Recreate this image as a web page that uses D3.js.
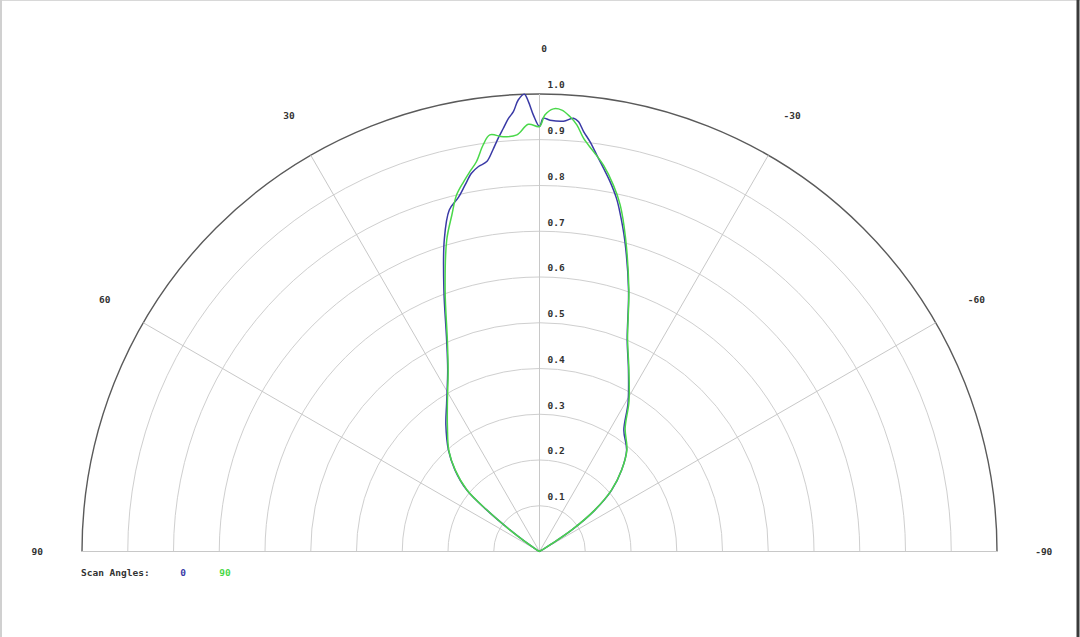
<!DOCTYPE html>
<html>
<head>
<meta charset="utf-8">
<title>Scan Angles polar plot</title>
<script src="https://cdn.jsdelivr.net/npm/d3@7"></script>
<style>
	html, body { margin: 0; padding: 0; background: #fff; }
	svg { display: block; }
	.label { font-family: "DejaVu Sans Mono", "Liberation Mono", monospace; font-weight: bold; font-size: 9.5px; fill: #333; }
	.ring { fill: none; stroke: #cfcfcf; stroke-width: 1; }
	.ring.outer { stroke: #5a5a5a; stroke-width: 1.4; }
	.spoke { stroke: #c8c8c8; stroke-width: 1; }
	.series { fill: none; stroke-width: 1.5; stroke-linejoin: round; }
</style>
</head>
<body>
<svg id="chart" width="1080" height="637"></svg>
<script>
// legend categories and colours
var scanAngles = ['0', '90'];
var seriesColors = ['#3a3aa6', '#4ad84a'];

// grid ticks
var ringTicks = [0.1, 0.2, 0.3, 0.4, 0.5, 0.6, 0.7, 0.8, 0.9, 1.0];
var ringLabels = ['0.1', '0.2', '0.3', '0.4', '0.5', '0.6', '0.7', '0.8', '0.9', '1.0'];
var angleTicks = [90, 60, 30, 0, -30, -60, -90];
var angleLabels = ['90', '60', '30', '0', '-30', '-60', '-90'];

// scan angle 0 : theta (deg) / normalised amplitude
var theta0 = [90, 75, 65, 60, 57, 55.5, 53.9, 51.8, 49.8, 46.0, 41.9, 36.5, 32.0, 26.8, 23.7, 20.1, 17.0, 14.8,
	12.9, 11.5, 10.2, 9.0, 7.7, 6.5, 5.7, 4.9, 4.1, 3.4, 2.7, 1.9, 1.4, 0.8, 0, -0.5, -1.4, -3.2, -4.5, -5.2,
	-6.0, -7.0, -8.2, -9.5, -10.8, -12.3, -13.3, -15.3, -18.8, -22.5, -26.1, -30.8, -34.8, -40.7, -45.2,
	-49.6, -53.2, -56.3, -58, -60, -65, -75, -90];
var value0 = [0, 0, 0, 0, 0.01, 0.04, 0.080, 0.147, 0.208, 0.257, 0.298, 0.344, 0.383, 0.445, 0.505, 0.608, 0.712, 0.772,
	0.794, 0.817, 0.840, 0.852, 0.860, 0.887, 0.908, 0.928, 0.949, 0.963, 0.988, 1.0, 0.983, 0.954, 0.929, 0.947, 0.943, 0.942, 0.950, 0.943,
	0.923, 0.903, 0.876, 0.849, 0.823, 0.790, 0.763, 0.706, 0.604, 0.501, 0.442, 0.378, 0.323, 0.292, 0.253,
	0.207, 0.151, 0.085, 0.03, 0.008, 0, 0, 0];

// scan angle 90
var theta90 = [90, 75, 65, 60, 57, 55.5, 53.8, 51.7, 49.7, 46.0, 42.0, 36.3, 32.0, 26.8, 23.6, 19.9, 16.6, 14.6,
	13.1, 11.6, 10.4, 9.2, 7.9, 6.8, 5.0, 3.1, 1.5, 0, -0.7, -1.8, -2.9, -4.0, -5.0, -6.1, -7.7, -9.4, -11.4,
	-13.1, -15.3, -18.8, -22.5, -26.1, -30.8, -34.8, -40.7, -45.2, -49.6, -53.2, -56.3, -58, -60, -65, -75, -90];
var value90 = [0, 0, 0, 0, 0.01, 0.04, 0.082, 0.148, 0.208, 0.256, 0.296, 0.340, 0.380, 0.443, 0.503, 0.606, 0.710, 0.760,
	0.800, 0.825, 0.844, 0.863, 0.897, 0.917, 0.910, 0.912, 0.934, 0.929, 0.954, 0.968, 0.966, 0.953, 0.936, 0.908, 0.882, 0.856, 0.817,
	0.778, 0.712, 0.606, 0.503, 0.444, 0.382, 0.328, 0.293, 0.253, 0.206, 0.150, 0.084, 0.03, 0.008, 0, 0, 0];

var series = [
	{ name: scanAngles[0], theta: theta0, value: value0, color: seriesColors[0] },
	{ name: scanAngles[1], theta: theta90, value: value90, color: seriesColors[1] }
];

var cx = 539.5, cy = 551.5, radius = 457.5;

var svg = d3.select('#chart');

// frame edges of the original screenshot
svg.append('line').attr('x1', 0).attr('x2', 1080).attr('y1', 0.5).attr('y2', 0.5).attr('stroke', '#d8d8d8');
svg.append('line').attr('x1', 1).attr('x2', 1).attr('y1', 0).attr('y2', 637).attr('stroke', '#d0d0d0').attr('stroke-width', 2);
svg.append('line').attr('x1', 1078).attr('x2', 1078).attr('y1', 0).attr('y2', 637).attr('stroke', '#3a3a3a').attr('stroke-width', 3);

var r = d3.scaleLinear().domain([0, 1]).range([0, radius]);
// positive angles are on the left, 0 points up
var a = d3.scaleLinear().domain([-90, 90]).range([Math.PI / 2, -Math.PI / 2]);

var g = svg.append('g').attr('transform', 'translate(' + cx + ',' + cy + ')');

function halfRing(rad) {
	var p = d3.path();
	p.moveTo(-rad, 0);
	p.arc(0, 0, rad, Math.PI, 2 * Math.PI);
	return p.toString();
}

g.selectAll('path.ring')
	.data(ringTicks)
	.enter().append('path')
	.attr('class', function (d, i) { return i === ringTicks.length - 1 ? 'ring outer' : 'ring'; })
	.attr('d', function (d) { return halfRing(r(d)); });

g.selectAll('line.spoke')
	.data(angleTicks)
	.enter().append('line')
	.attr('class', 'spoke')
	.attr('x1', 0).attr('y1', 0)
	.attr('x2', function (d) { return r(1) * Math.sin(a(d)); })
	.attr('y2', function (d) { return -r(1) * Math.cos(a(d)); });

// ring labels, just right of the 0 spoke and above each ring
g.selectAll('text.ringlabel')
	.data(ringTicks)
	.enter().append('text')
	.attr('class', 'label ringlabel')
	.attr('x', 8)
	.attr('y', function (d) { return -r(d) - 9; })
	.attr('dy', '0.35em')
	.text(function (d, i) { return ringLabels[i]; });

// angle labels outside the outer ring
g.selectAll('text.anglelabel')
	.data(angleTicks)
	.enter().append('text')
	.attr('class', 'label anglelabel')
	.attr('text-anchor', 'middle')
	.attr('x', function (d) { return r(1.1) * Math.sin(a(d)) + (d === 0 ? 4.5 : 1); })
	.attr('y', function (d) { return -r(1.1) * Math.cos(a(d)); })
	.attr('dy', '0.35em')
	.text(function (d, i) { return angleLabels[i]; });

var line = d3.lineRadial()
	.angle(function (d) { return a(d[0]); })
	.radius(function (d) { return r(d[1]); })
	.curve(d3.curveCatmullRom.alpha(0.5));

g.selectAll('path.series')
	.data(series)
	.enter().append('path')
	.attr('class', 'series')
	.attr('stroke', function (d) { return d.color; })
	.attr('d', function (d) { return line(d.theta.map(function (t, i) { return [t, d.value[i]]; })); });

// legend
var legend = svg.append('g').attr('transform', 'translate(81,573)');
legend.append('text').attr('class', 'label').attr('dy', '0.35em').text('Scan Angles:');
legend.selectAll('text.item')
	.data(series)
	.enter().append('text')
	.attr('class', 'label item')
	.attr('text-anchor', 'middle')
	.attr('x', function (d, i) { return 102 + i * 42; })
	.attr('dy', '0.35em')
	.style('fill', function (d) { return d.color; })
	.text(function (d) { return d.name; });
</script>
</body>
</html>
